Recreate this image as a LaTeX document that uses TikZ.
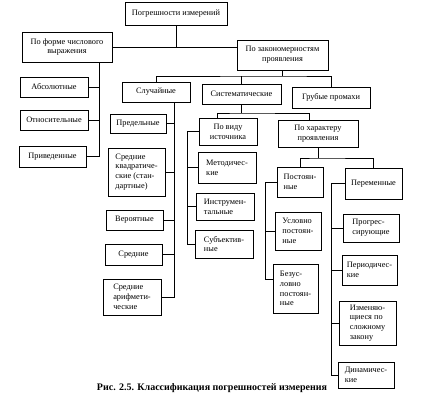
\documentclass[tikz,border=0pt]{standalone}
\usepackage{fontspec}
\setmainfont{Liberation Serif}
\usetikzlibrary{calc}

\begin{document}
\begin{tikzpicture}[x=1pt, y=-1pt, line width=0.8pt,
    every node/.style={font=\fontsize{8.3}{9.8}\selectfont},
    box/.style 2 args={draw, inner sep=2pt, minimum width=#1pt, minimum height=#2pt},
    cbox/.style 2 args={box={#1}{#2}, align=center},
    lbox/.style 2 args={box={#1}{#2}, align=left}]
    \useasboundingbox (0,0) rectangle (436,405);
    \node[cbox={102}{23}] (root) at (176,13.5) {Погрешности измерений};
    \node[cbox={90}{30}] (form) at (67,47) {По форме числового\\выражения};
    \node[cbox={91}{30}] (law) at (282.5,55) {По закономерностям\\проявления};
    \node[cbox={68}{20}] (abs) at (54,87) {Абсолютные};
    \node[cbox={68}{20}] (rel) at (54,120) {Относительные};
    \node[cbox={67}{21}] (red) at (52.5,156.5) {Приведенные};
    \node[cbox={68}{20}] (rand) at (156,92) {Случайные};
    \node[cbox={79}{20}] (sys) at (241.5,94) {Систематические};
    \node[cbox={78}{21}] (gross) at (331,97.5) {Грубые промахи};
    \node[lbox={56}{19}] (lim) at (138,123.5) {Предельные};
    \node[lbox={57}{48}] (rms) at (136.5,172) {Средние\\квадратиче-\\ские (стан-\\дартные)};
    \node[lbox={57}{20}] (prob) at (134.5,220) {Вероятные};
    \node[lbox={57}{21}] (mean) at (133.5,254.5) {Средние};
    \node[lbox={58}{36}] (arith) at (132,297) {Средние\\арифмети-\\ческие};
    \node[cbox={58}{27}] (src) at (228,131.5) {По виду\\источника};
    \node[lbox={58}{31}] (meth) at (227,167.5) {Методичес-\\кие};
    \node[lbox={58}{27}] (instr) at (225,206.5) {Инструмен-\\тальные};
    \node[lbox={58}{28}] (subj) at (224,244) {Субъектив-\\ные};
    \node[cbox={80}{27}] (char) at (318,133.5) {По характеру\\проявления};
    \node[lbox={46}{30}] (const) at (300,182) {Постоян-\\ные};
    \node[lbox={57}{31}] (var) at (373.5,183.5) {Переменные};
    \node[lbox={46}{38}] (cond) at (298,231) {Условно\\постоян-\\ные};
    \node[lbox={45}{49}] (uncond) at (295.5,288.5) {Безус-\\ловно\\постоян-\\ные};
    \node[lbox={56}{28}] (prog) at (371,228) {Прогрес-\\сирующие};
    \node[lbox={55}{30}] (period) at (369.5,270) {Периодичес-\\кие};
    \node[lbox={57}{44}] (complex) at (367.5,323) {Изменяю-\\щиеся по\\сложному\\закону};
    \node[lbox={56}{26}] (dyn) at (366,375) {Динамичес-\\кие};
    \node[font=\bfseries\fontsize{10}{12}\selectfont] (cap) at (212,388) {Рис. 2.5. Классификация погрешностей измерения};
    \coordinate (top) at (176,47);
    \draw (root.south) -- (top);
    \draw (form.east) -- (law.west |- form.east);
    \coordinate (fbus) at (99,62);
    \draw (fbus) |- (red.east);
    \foreach \n in {abs,rel} \draw (\n.east) -- (\n.east -| fbus);
    \coordinate (lbus) at (282.5,76);
    \draw (law.south) -- (lbus);
    \draw (rand.north) |- (lbus) -| (gross.north);
    \draw (sys.north) -- (sys.north |- lbus);
    \coordinate (rbus) at (174,102);
    \draw (rbus) |- (arith.east);
    \foreach \n in {lim,rms,prob,mean} \draw (\n.east) -- (\n.east -| rbus);
    \coordinate (sbus) at (241.5,113);
    \draw (sys.south) -- (sbus);
    \draw ([xshift=-11pt]src.north) |- (sbus) -| ([xshift=-9pt]char.north);
    \coordinate (vbus) at (187,131.5);
    \draw (src.west) -- (vbus) |- (subj.west);
    \foreach \n in {meth,instr} \draw (\n.west) -- (\n.west -| vbus);
    \coordinate (cbus) at (318,158);
    \draw (char.south) -- (cbus);
    \draw (const.north) |- (cbus) -| (var.north);
    \coordinate (pbus) at (265,182);
    \draw (const.west) -- (pbus) |- ([yshift=9.5pt]uncond.west);
    \draw (cond.west) -- (cond.west -| pbus);
    \coordinate (qbus) at (331,183.5);
    \draw (var.west) -- (qbus) |- (dyn.west);
    \foreach \n in {prog,period,complex} \draw (\n.west) -- (\n.west -| qbus);
\end{tikzpicture}
\end{document}
